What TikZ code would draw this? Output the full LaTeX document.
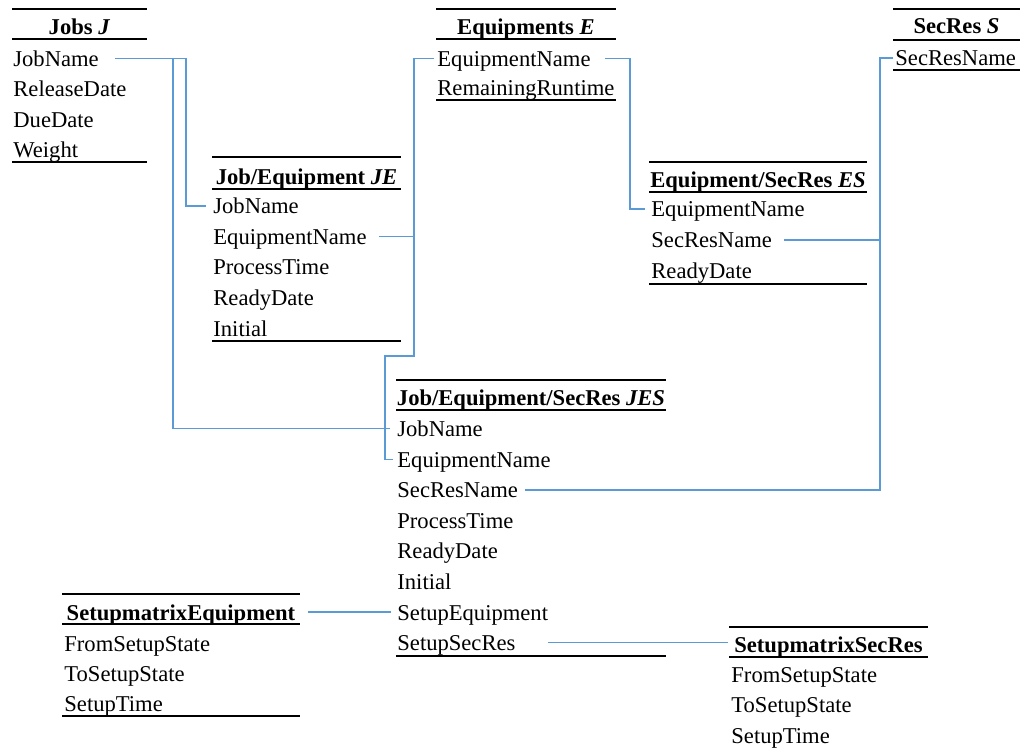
\documentclass[tikz,border=0pt]{standalone}
\usepackage{fontspec}
\setmainfont{Liberation Serif}
\usetikzlibrary{positioning, calc}
\definecolor{linkblue}{HTML}{5B9BD5}

\begin{document}
\begin{tikzpicture}[x=0.5pt, y=-0.5pt,
    row/.style={anchor=base west, inner sep=0pt, text height=8pt, text depth=0pt, font=\fontsize{11.3}{13}\selectfont},
    ttl/.style={anchor=base, inner sep=0pt, text height=8pt, text depth=0pt, font=\fontsize{11.3}{13}\selectfont\bfseries},
    rule/.style={black, line width=1pt},
    link/.style={linkblue, line width=0.7pt}]
    \useasboundingbox (0,0) rectangle (1026,748);
    % Jobs J
    \foreach \y in {9,39.5,162} \draw[rule] (12,\y) -- (147,\y);
    \node[ttl] (Jt) at (79.5,35) {Jobs \textit{J}};
    \foreach \t/\y [count=\i] in {JobName/66.5, ReleaseDate/97, DueDate/127.5, Weight/157.5}
        \node[row] (J\i) at (13,\y) {\t};
    % Job/Equipment JE
    \foreach \y in {157,189.5,341} \draw[rule] (212,\y) -- (401,\y);
    \node[ttl] (JEt) at (306.5,185) {Job/Equipment \textit{JE}};
    \foreach \t/\y [count=\i] in {JobName/214, EquipmentName/244.5, ProcessTime/275, ReadyDate/305.5, Initial/336}
        \node[row] (JE\i) at (213,\y) {\t};
    % Equipments E
    \foreach \y in {9,39.5,100} \draw[rule] (436,\y) -- (616,\y);
    \node[ttl] (Et) at (526,35) {Equipments \textit{E}};
    \foreach \t/\y [count=\i] in {EquipmentName/66.5, RemainingRuntime/95.5}
        \node[row] (E\i) at (437,\y) {\t};
    % Equipment/SecRes ES
    \foreach \y in {162,192,284} \draw[rule] (649,\y) -- (867,\y);
    \node[ttl] (ESt) at (758,188) {Equipment/SecRes \textit{ES}};
    \foreach \t/\y [count=\i] in {EquipmentName/217, SecResName/248, ReadyDate/278.5}
        \node[row] (ES\i) at (651,\y) {\t};
    % SecRes S
    \foreach \y in {9,40,70} \draw[rule] (893,\y) -- (1020,\y);
    \node[ttl] (St) at (956.5,34) {SecRes \textit{S}};
    \node[row] (S1) at (895,66) {SecResName};
    % Job/Equipment/SecRes JES
    \foreach \y in {380,410,655.7} \draw[rule] (396,\y) -- (666,\y);
    \node[ttl] (JESt) at (531,405) {Job/Equipment/SecRes \textit{JES}};
    \foreach \t [count=\i] in {JobName, EquipmentName, SecResName, ProcessTime, ReadyDate, Initial, SetupEquipment, SetupSecRes}
        \node[row] (JES\i) at (397,{436.7+30.57*(\i-1)}) {\t};
    % SetupmatrixEquipment
    \foreach \y in {594,623.5,716} \draw[rule] (62,\y) -- (300,\y);
    \node[ttl] (SMEt) at (181,620) {SetupmatrixEquipment};
    \foreach \t/\y [count=\i] in {FromSetupState/651.7, ToSetupState/681.7, SetupTime/711.7}
        \node[row] (SME\i) at (64,\y) {\t};
    % SetupmatrixSecRes
    \foreach \y in {626.5,656.5} \draw[rule] (729,\y) -- (928,\y);
    \node[ttl] (SMSt) at (828.5,652) {SetupmatrixSecRes};
    \foreach \t/\y [count=\i] in {FromSetupState/682.7, ToSetupState/712.7, SetupTime/743}
        \node[row] (SMS\i) at (731,\y) {\t};

    % buses
    \coordinate (busJa) at (186,0);
    \coordinate (busJb) at (173,0);
    \coordinate (busE) at (414,0);
    \coordinate (kneeE) at (385,356);
    \coordinate (busES) at (630,0);
    \coordinate (busS) at (880,0);

    % links
    \draw[link] ([xshift=8pt]J1.east) -| (busJa |- JE1) -- ([xshift=-3.5pt]JE1.west);
    \draw[link] (busJb |- J1) |- ([xshift=-3.5pt]JES1.west);
    \draw[link] ([xshift=-1.5pt]E1.west) -| (kneeE -| busE) -- (kneeE) |- ([xshift=-2pt]JES2.west);
    \draw[link] ([xshift=6pt]JE2.east) -- (busE |- JE2);
    \draw[link] ([xshift=7pt]E1.east) -| (busES |- ES1) -- ([xshift=-3pt]ES1.west);
    \draw[link] ([xshift=-1pt]S1.west) -| (busS |- JES3) -- ([xshift=3.5pt]JES3.east);
    \draw[link] ([xshift=6pt]ES2.east) -- (busS |- ES2);
    \draw[link] ([xshift=6pt]SMEt.east) -- ([xshift=-3pt]SMEt.east -| JES7.west);
    \draw[link] ([xshift=16pt]JES8.east) -- ([xshift=-3pt]JES8.east -| SMSt.west);
\end{tikzpicture}
\end{document}
